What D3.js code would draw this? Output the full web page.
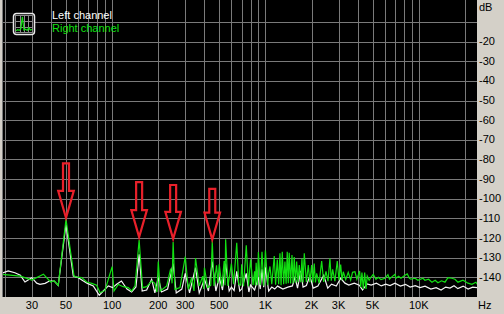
<!DOCTYPE html>
<html>
<head>
<meta charset="utf-8">
<script src="https://d3js.org/d3.v7.min.js"></script>
<style>
  html, body { margin: 0; padding: 0; background: #d4d0c8; }
  svg { display: block; }
  text { font-family: "Liberation Sans", Arial, sans-serif; font-size: 11px; }
</style>
</head>
<body>
<svg id="chart" width="504" height="314"></svg>
<script>
// Spectrum (RMAA style) demo

// dB grid lines and labels
const dbGrid = [-10, -20, -30, -40, -50, -60, -70, -80, -90, -100, -110, -120, -130, -140];
const dbLabels = [-20, -30, -40, -50, -60, -70, -80, -90, -100, -110, -120, -130, -140];

// frequency labels
const freqLabels = [30, 50, 100, 200, 300, 500, 1000, 2000, 3000, 5000, 10000];
const freqNames = ['30', '50', '100', '200', '300', '500', '1K', '2K', '3K', '5K', '10K'];

// Left channel (white), [Hz, dB]
const leftChannel = [
  [19, -138], [21, -136.8], [23.2, -137.7], [25.2, -139], [27, -142.4], [29.9, -140.2],
  [32.2, -143], [33.8, -143.6], [36.5, -143.1], [39, -141.9], [41.9, -141.9], [44.5, -144.1],
  [50, -113], [55.8, -139.4], [60.1, -140.2], [64.9, -141.9], [68.9, -143.1], [75.3, -144.4],
  [82.4, -149.2], [87.5, -147], [94.4, -144.4], [100.8, -145.3], [107, -143.6], [115, -141.9],
  [125, -146], [134, -147.5], [143, -145], [150, -128.3], [157, -147], [168, -146.5],
  [181, -141], [190, -148], [200, -140], [210, -147.5], [230, -146], [250, -133],
  [262, -148], [285, -146], [300, -138], [320, -148], [350, -135.1], [370, -148],
  [400, -141], [425, -147], [450, -132], [475, -147], [500, -140], [525, -146.5],
  [550, -133], [580, -147], [600, -145], [625, -146.8], [650, -137], [680, -147],
  [700, -146], [750, -138], [780, -147.5], [800, -144], [850, -146.5], [900, -140],
  [925, -146], [950, -136], [975, -145], [1000, -135], [1050, -147], [1100, -145],
  [1150, -146], [1200, -144.5], [1300, -146], [1400, -145], [1500, -144.4], [1560, -140],
  [1620, -145.5], [1700, -136.8], [1760, -145], [1850, -144.2], [1950, -139.3], [2050, -145.5],
  [2200, -144.5], [2400, -139], [2550, -145.5], [2700, -143.5], [2900, -144.5], [3100, -140.5],
  [3300, -143], [3500, -144], [3800, -143], [4100, -144], [4300, -146.5], [4600, -143.4],
  [4900, -144], [5300, -143], [5700, -144.4], [6100, -143.5], [6500, -144.2], [7000, -143],
  [7600, -144.5], [8200, -143.6], [8800, -145], [9500, -144.3], [10200, -145.3], [11000, -144.5],
  [12000, -146], [13000, -145.3], [14000, -146.5], [15000, -145], [16000, -145.5], [17000, -144.3],
  [18000, -145.8], [19500, -144.5], [21000, -146], [22500, -145], [24000, -145.3]
];

// Right channel (green), [Hz, dB]
const rightChannel = [
  [19, -138.5], [25.2, -139.4], [29.9, -141.4], [35.6, -138.4], [39.7, -142.4], [41.9, -141.8],
  [44.5, -144.1], [50, -110.5], [56.4, -139.4], [59.2, -139.9], [63.3, -140.2], [68.2, -142.4],
  [73.6, -143.1], [79.3, -144.1], [83.3, -147.9], [89.8, -146.7], [100, -134.6], [102.8, -147],
  [109.7, -143.6], [112.5, -144.1], [118, -144.8], [127.5, -145.3], [134, -147], [141, -144.4],
  [150, -121], [158, -145.3], [168, -144.8], [181, -141.9], [190, -143.1], [196, -147.5],
  [200, -132], [206, -147], [227, -144.4], [241, -135.6], [246, -143.1], [250, -122],
  [257, -146.2], [277, -145.3], [300, -129.5], [314, -146.2], [330, -140.2], [342, -147],
  [350, -130.2], [370, -144.4], [390, -139.4], [396, -146], [400, -135.1], [420, -145.3],
  [440, -144], [450, -121.5], [462, -144.4], [480, -133.9], [490, -143], [500, -133.4],
  [520, -144.8], [538, -131.7], [545, -144], [550, -120.7], [570, -144.4], [600, -133],
  [620, -143.5], [650, -122.4], [670, -143.6], [690, -144], [700, -133.4], [720, -144.5],
  [750, -123.7], [775, -144.5], [800, -130.9], [830, -144], [850, -137], [860, -144],
  [870, -132.6], [885, -144], [900, -127.2], [925, -144], [950, -127], [975, -144.3],
  [1000, -126.2], [1035, -144], [1050, -138], [1071, -134.5], [1100, -143.5], [1142, -129.2],
  [1165, -143.8], [1195, -131], [1220, -143.5], [1244, -127.8], [1265, -144], [1288, -127],
  [1315, -143.5], [1341, -132], [1365, -143.3], [1388, -127], [1410, -143], [1430, -127.5],
  [1460, -143.2], [1490, -128.7], [1515, -143], [1542, -129.7], [1570, -142.8], [1599, -132],
  [1630, -142.5], [1663, -133.8], [1700, -142.5], [1731, -130.4], [1760, -142.7], [1793, -127.8],
  [1850, -142.4], [1904, -133.8], [1950, -142.5], [2003, -133.8], [2040, -142.6], [2082, -133],
  [2120, -142.6], [2160, -138], [2240, -143], [2328, -131.7], [2400, -142.4], [2484, -137],
  [2560, -142], [2636, -130.4], [2690, -141.8], [2745, -136], [2840, -142], [2943, -131.7],
  [3020, -141.5], [3097, -133.5], [3160, -141.5], [3220, -137.2], [3340, -141.2], [3470, -137.5],
  [3600, -141.4], [3700, -137.5], [3838, -137.2], [3950, -141], [4118, -136.8], [4180, -145],
  [4264, -137.6], [4350, -146], [4441, -137.6], [4530, -146], [4617, -139.4], [4750, -141.5],
  [4882, -140], [5054, -138.5], [5260, -141], [5460, -140], [5672, -141.2], [6025, -140.5],
  [6300, -138.7], [6450, -141], [6592, -140.2], [6998, -138.5], [7106, -140.5], [7400, -139.5],
  [7660, -140.5], [8133, -139], [8421, -138.3], [8700, -140.5], [8900, -141], [9452, -140.5],
  [9890, -141.5], [10660, -140.5], [10980, -141.5], [11600, -141], [12200, -142.5], [12800, -141.5],
  [13350, -142.8], [14100, -141.8], [14840, -142.5], [15520, -140.2], [16480, -140.5], [17240, -141],
  [18030, -142.5], [19440, -141.5], [20960, -143], [22250, -143.6], [23620, -142.5], [24160, -143.6]
];

// red arrows: [Hz, tip dB, top dB]
const arrows = [[50, -110.5, -82], [150, -120.3, -91.5], [250, -121.2, -93], [450, -121.6, -95]];

// tiny trace for the legend icon (0..1)
const iconTrace = [0.08, 0.14, 0.1, 0.2, 0.95, 0.12, 0.18, 0.1, 0.26, 0.12, 0.16];

const green = '#12e012';
const gridColor = '#7a7a7a';

const svg = d3.select('#chart');

// plot area
const plotL = 2, plotR = 477, plotT = 0, plotB = 297;

const x = d3.scaleLog()
  .domain([20, 10000])
  .range([5, 418.7]);

const y = d3.scaleLinear()
  .domain([0, -150])
  .range([2.4, 296.9]);

svg.append('rect')
  .attr('x', plotL).attr('y', plotT)
  .attr('width', plotR - plotL).attr('height', plotB - plotT)
  .attr('fill', '#000');

svg.append('clipPath')
  .attr('id', 'plotClip')
  .append('rect')
    .attr('x', plotL).attr('y', plotT)
    .attr('width', plotR - plotL).attr('height', plotB - plotT);

const plot = svg.append('g').attr('clip-path', 'url(#plotClip)');

// grid
const gridFreqs = x.copy().domain([19, 24000]).ticks();
plot.append('g')
  .selectAll('line')
  .data(gridFreqs)
  .enter()
  .append('line')
    .attr('x1', d => Math.round(x(d)) + 0.5)
    .attr('x2', d => Math.round(x(d)) + 0.5)
    .attr('y1', plotT)
    .attr('y2', plotB)
    .attr('stroke', gridColor)
    .attr('shape-rendering', 'crispEdges');

plot.append('g')
  .selectAll('line')
  .data(dbGrid)
  .enter()
  .append('line')
    .attr('x1', plotL)
    .attr('x2', plotR)
    .attr('y1', d => Math.round(y(d)) + 0.5)
    .attr('y2', d => Math.round(y(d)) + 0.5)
    .attr('stroke', gridColor)
    .attr('shape-rendering', 'crispEdges');

// left edge
svg.append('line')
  .attr('x1', plotL + 0.5).attr('x2', plotL + 0.5)
  .attr('y1', plotT).attr('y2', plotB)
  .attr('stroke', gridColor);

// spectrum lines
const line = d3.line()
  .x(d => x(d[0]))
  .y(d => y(d[1]));

plot.append('path')
  .datum(leftChannel)
  .attr('d', line)
  .attr('fill', 'none')
  .attr('stroke', '#f4f4f4')
  .attr('stroke-width', 1.2);

plot.append('path')
  .datum(rightChannel)
  .attr('d', line)
  .attr('fill', 'none')
  .attr('stroke', green)
  .attr('stroke-width', 1.2);

// arrows
const arrowShape = d => {
  const cx = x(d[0]), tip = y(d[1]) - 1.5, topY = y(d[2]);
  const hs = 3, hh = 7.8, headLen = 27;
  return d3.line()([
    [cx - hs, topY], [cx + hs, topY], [cx + hs, tip - headLen], [cx + hh, tip - headLen],
    [cx, tip], [cx - hh, tip - headLen], [cx - hs, tip - headLen]
  ]) + 'Z';
};

svg.append('g')
  .selectAll('path')
  .data(arrows)
  .enter()
  .append('path')
    .attr('d', arrowShape)
    .attr('fill', 'none')
    .attr('stroke', '#e8202a')
    .attr('stroke-width', 2.2)
    .attr('stroke-linejoin', 'miter');

// right axis labels
svg.append('g')
  .selectAll('text')
  .data(dbLabels)
  .enter()
  .append('text')
    .attr('x', 479)
    .attr('y', d => y(d) + 3.5)
    .text(d => d);

svg.append('text').attr('x', 479).attr('y', 11).text('dB');
svg.append('text').attr('x', 478).attr('y', 308.5).text('Hz');

// bottom axis labels
svg.append('g')
  .selectAll('text')
  .data(freqLabels)
  .enter()
  .append('text')
    .attr('x', d => x(d))
    .attr('y', 308.5)
    .attr('text-anchor', 'middle')
    .text((d, i) => freqNames[i]);

// legend
const icon = svg.append('g').attr('transform', 'translate(13,13)');
icon.append('rect')
  .attr('x', 0.5).attr('y', 0.5)
  .attr('width', 21).attr('height', 21)
  .attr('rx', 3)
  .attr('fill', '#000')
  .attr('stroke', '#e8e8e8')
  .attr('stroke-width', 1.5);
icon.append('rect')
  .attr('x', 2.5).attr('y', 2.5)
  .attr('width', 17).attr('height', 17)
  .attr('fill', 'none')
  .attr('stroke', '#8a8a8a');

const ix = d3.scaleLinear().domain([0, iconTrace.length - 1]).range([3, 19]);
const iy = d3.scaleLinear().domain([0, 1]).range([19, 3]);

icon.append('g')
  .selectAll('line')
  .data([0.25, 0.5, 0.75])
  .enter()
  .append('line')
    .attr('x1', d => Math.round(3 + 16 * d) + 0.5)
    .attr('x2', d => Math.round(3 + 16 * d) + 0.5)
    .attr('y1', 3).attr('y2', 19)
    .attr('stroke', '#8a8a8a');
icon.append('g')
  .selectAll('line')
  .data([0.33, 0.66])
  .enter()
  .append('line')
    .attr('y1', d => Math.round(3 + 16 * d) + 0.5)
    .attr('y2', d => Math.round(3 + 16 * d) + 0.5)
    .attr('x1', 3).attr('x2', 19)
    .attr('stroke', '#8a8a8a');
icon.append('path')
  .datum(iconTrace)
  .attr('d', d3.line().x((d, i) => ix(i)).y(d => iy(d)))
  .attr('fill', 'none')
  .attr('stroke', green)
  .attr('stroke-width', 1.2);

svg.append('text').attr('x', 52).attr('y', 18.5).attr('fill', '#fff').text('Left channel');
svg.append('text').attr('x', 52).attr('y', 31.5).attr('fill', green).text('Right channel');
</script>
</body>
</html>
